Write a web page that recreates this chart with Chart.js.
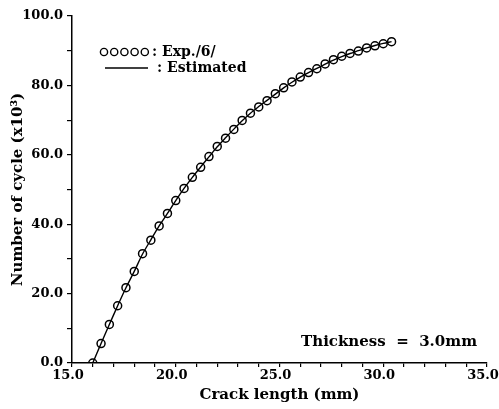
<!DOCTYPE html>
<html>
<head>
<meta charset="utf-8">
<script src="https://cdn.jsdelivr.net/npm/chart.js@4.4.1/dist/chart.umd.min.js"></script>
<style>
  html, body { margin: 0; padding: 0; background: #fff; }
  #wrap { width: 499px; height: 409px; }
</style>
</head>
<body>
<div id="wrap"><canvas id="c"></canvas></div>
<script>
// Crack length (mm) at each measurement
const crackLength = [16.0, 16.4, 16.8, 17.2, 17.6, 18.0, 18.4, 18.8, 19.2, 19.6,
                     20.0, 20.4, 20.8, 21.2, 21.6, 22.0, 22.4, 22.8, 23.2, 23.6,
                     24.0, 24.4, 24.8, 25.2, 25.6, 26.0, 26.4, 26.8, 27.2, 27.6,
                     28.0, 28.4, 28.8, 29.2, 29.6, 30.0, 30.4];

// Experimental number of cycles (x10^3), ref. /6/
const expCycles = [0.0, 5.6, 11.1, 16.5, 21.7, 26.4, 31.5, 35.4, 39.5, 43.1,
                   46.8, 50.3, 53.5, 56.4, 59.5, 62.4, 64.8, 67.3, 69.9, 72.0,
                   73.8, 75.6, 77.6, 79.3, 81.0, 82.4, 83.7, 84.8, 86.2, 87.4,
                   88.4, 89.2, 89.9, 90.8, 91.4, 92.0, 92.6];

// Estimated number of cycles (x10^3)
const estCycles = [0.0, 5.6, 11.1, 16.5, 21.7, 26.4, 31.4, 35.5, 39.5, 43.1,
                   46.8, 50.3, 53.5, 56.5, 59.4, 62.3, 64.9, 67.4, 69.8, 72.0,
                   73.9, 75.7, 77.5, 79.3, 80.9, 82.4, 83.7, 84.9, 86.1, 87.3,
                   88.3, 89.2, 90.0, 90.8, 91.5, 92.1, 92.6];

const xTicks = [15.0, 20.0, 25.0, 30.0, 35.0];
const yTicks = [0.0, 20.0, 40.0, 60.0, 80.0, 100.0];

const FONT = "'DejaVu Serif', 'Liberation Serif', serif";

const toXY = (xs, ys) => xs.map((x, i) => ({ x: x, y: ys[i] }));

// Legend and thickness note drawn in the plot area
const notes = {
  id: 'notes',
  afterDatasetsDraw(chart) {
    const ctx = chart.ctx;
    const a = chart.chartArea;
    ctx.save();
    ctx.fillStyle = '#000';
    ctx.strokeStyle = '#000';

    // legend row 1: five open circles
    const y1 = a.top + 36;
    ctx.lineWidth = 1.4;
    for (let i = 0; i < 5; i++) {
      ctx.beginPath();
      ctx.arc(a.left + 32 + i * 10.2, y1, 3.6, 0, Math.PI * 2);
      ctx.stroke();
    }
    ctx.font = "bold 14px " + FONT;
    ctx.textBaseline = 'middle';
    ctx.textAlign = 'left';
    ctx.fillText(': Exp./6/', a.left + 80, y1);

    // legend row 2: solid line
    const y2 = a.top + 52;
    ctx.lineWidth = 1.5;
    ctx.beginPath();
    ctx.moveTo(a.left + 33, y2);
    ctx.lineTo(a.left + 76, y2);
    ctx.stroke();
    ctx.fillText(': Estimated', a.left + 85, y2);

    // thickness note
    ctx.font = "bold 15px " + FONT;
    ctx.textAlign = 'right';
    ctx.textBaseline = 'alphabetic';
    ctx.fillText('Thickness  =  3.0mm', a.right - 10, a.bottom - 17);
    ctx.restore();
  }
};

new Chart(document.getElementById('c'), {
  type: 'line',
  data: {
    datasets: [
      {
        label: 'Exp./6/',
        data: toXY(crackLength, expCycles),
        showLine: false,
        pointStyle: 'circle',
        pointRadius: 4,
        pointBorderWidth: 1.5,
        pointBorderColor: '#000',
        pointBackgroundColor: 'rgba(255,255,255,0)',
        order: 1
      },
      {
        label: 'Estimated',
        data: toXY(crackLength, estCycles),
        borderColor: '#000',
        borderWidth: 1.4,
        pointRadius: 0,
        tension: 0.3,
        fill: false,
        order: 2
      }
    ]
  },
  options: {
    responsive: true,
    maintainAspectRatio: false,
    animation: false,
    layout: { padding: { top: 16, right: 0, left: 0, bottom: 0 } },
    plugins: {
      legend: { display: false },
      tooltip: { enabled: false }
    },
    scales: {
      x: {
        type: 'linear',
        min: 15, max: 35,
        afterFit(s) { s.height = 46; s.paddingRight = 12; s.paddingLeft = 0; },
        ticks: {
          stepSize: 1,
          autoSkip: false,
          maxRotation: 0,
          padding: 1,
          labelOffset: -4,
          color: '#000',
          font: { family: FONT, size: 13, weight: 'bold' },
          callback: v => xTicks.includes(v) ? v.toFixed(1) : ''
        },
        grid: { drawOnChartArea: false, drawTicks: true, tickLength: 4, color: '#000', lineWidth: 1.2 },
        border: { display: true, color: '#000', width: 1.5 },
        title: {
          display: true,
          text: 'Crack length (mm)',
          color: '#000',
          font: { family: FONT, size: 15, weight: 'bold' },
          padding: { top: 0, bottom: 5 }
        }
      },
      y: {
        type: 'linear',
        min: 0, max: 100,
        afterFit(s) { s.width = 72; },
        ticks: {
          stepSize: 10,
          autoSkip: false,
          padding: 4,
          color: '#000',
          font: { family: FONT, size: 13, weight: 'bold' },
          callback: v => yTicks.includes(v) ? v.toFixed(1) : ''
        },
        grid: { drawOnChartArea: false, drawTicks: true, tickLength: 5, color: '#000', lineWidth: 1.2 },
        border: { display: true, color: '#000', width: 1.5 },
        title: {
          display: true,
          text: 'Number of cycle (x10³)',
          color: '#000',
          font: { family: FONT, size: 15, weight: 'bold' },
          padding: { top: 9, bottom: 0 }
        }
      }
    }
  },
  plugins: [notes]
});
</script>
</body>
</html>
